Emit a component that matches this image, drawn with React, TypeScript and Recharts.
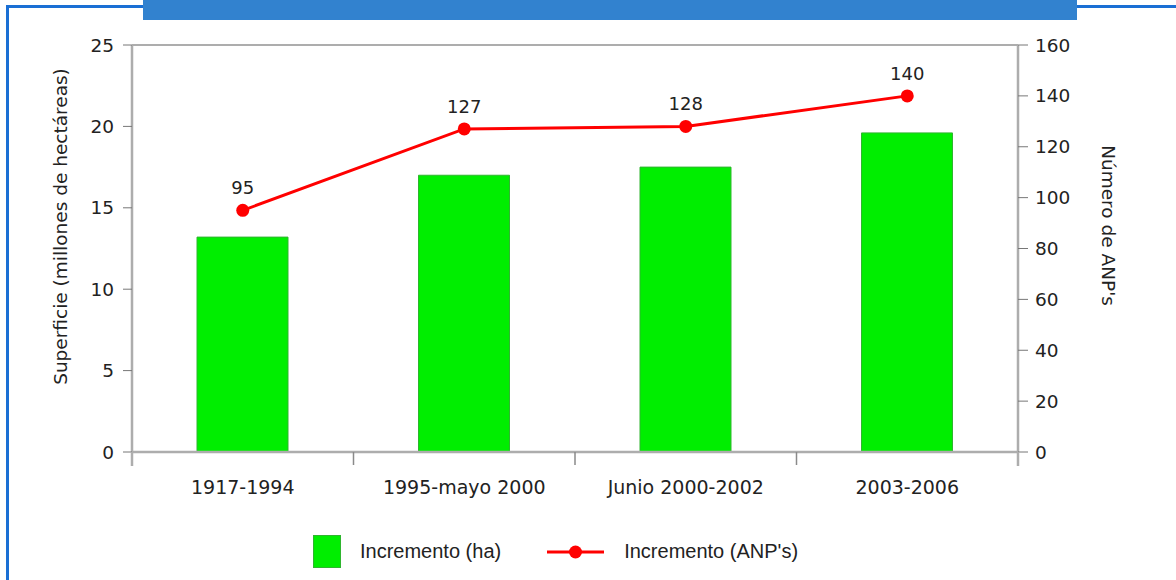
import {
  ComposedChart,
  Bar,
  Line,
  XAxis,
  YAxis,
  Legend,
  ReferenceLine,
  LabelList,
} from "recharts";

// periodos y valores
const periodos = ["1917-1994", "1995-mayo 2000", "Junio 2000-2002", "2003-2006"];
const superficie = [13.2, 17.0, 17.5, 19.6];
const numeroAnp = [95, 127, 128, 140];

const ticksSuperficie = [0, 5, 10, 15, 20, 25];
const ticksAnp = [0, 20, 40, 60, 80, 100, 120, 140, 160];

const data = periodos.map((p, i) => ({
  periodo: p,
  ha: superficie[i],
  anp: numeroAnp[i],
}));

const axisFont = "'DejaVu Sans', sans-serif";
const legendFont = "'Liberation Sans', Arial, sans-serif";
const GREEN = "#00ee00";
const RED = "#ff0000";
const AXIS = "#adadad";

const AxisTitle = (text: string, dx: number, dy: number, angle: number) =>
  (props: any) => {
    const vb = props.viewBox;
    const cx = vb.x + dx;
    const cy = vb.y + vb.height / 2 + dy;
    return (
      <text
        x={cx}
        y={cy}
        transform={`rotate(${angle} ${cx} ${cy})`}
        textAnchor="middle"
        dominantBaseline="central"
        fontSize={18.5}
        fontFamily={axisFont}
        fill="#222"
      >
        {text}
      </text>
    );
  };

// etiqueta de categoria + marcas entre bandas
const CategoryTick = (props: any) => {
  const { x, y, payload, index, visibleTicksCount, width } = props;
  const half =
    payload && payload.offset ? payload.offset : width / (2 * visibleTicksCount);
  const last = index === visibleTicksCount - 1;
  return (
    <g>
      {index === 0 && (
        <line x1={x - half} y1={y} x2={x - half} y2={y + 14} stroke={AXIS} strokeWidth={2.5} />
      )}
      {index > 0 && (
        <line x1={x - half} y1={y} x2={x - half} y2={y + 13} stroke="#8a8a8a" strokeWidth={1.5} />
      )}
      {last && (
        <line x1={x + half} y1={y} x2={x + half} y2={y + 14} stroke={AXIS} strokeWidth={2.5} />
      )}
      <text
        x={x}
        y={y + 35}
        textAnchor="middle"
        dominantBaseline="central"
        fontSize={19}
        fontFamily={axisFont}
        fill="#222"
      >
        {payload.value}
      </text>
    </g>
  );
};

const renderLegend = (props: any) => {
  const items = [...props.payload].sort(
    (a: any, b: any) => (a.type === "rect" ? 0 : 1) - (b.type === "rect" ? 0 : 1)
  );
  return (
    <div
      style={{
        display: "flex",
        alignItems: "center",
        fontFamily: legendFont,
        fontSize: 20,
        color: "#222",
      }}
    >
      {items.map((entry: any, i: number) => (
        <div
          key={i}
          style={{ display: "flex", alignItems: "center", marginLeft: i ? 46 : 0 }}
        >
          {entry.type === "rect" ? (
            <div
              style={{
                width: 28,
                height: 33,
                background: GREEN,
                border: "1px solid #2fb52f",
                boxSizing: "border-box",
                marginRight: 19,
              }}
            />
          ) : (
            <svg width={57} height={16} style={{ marginRight: 20 }}>
              <line x1={0} y1={8} x2={57} y2={8} stroke={RED} strokeWidth={3} />
              <circle cx={28.5} cy={8} r={6.5} fill={RED} />
            </svg>
          )}
          <span>{entry.value}</span>
        </div>
      ))}
    </div>
  );
};

export default function App() {
  return (
    <div
      style={{
        position: "fixed",
        left: 0,
        top: 0,
        width: 1176,
        height: 580,
        background: "#fff",
        overflow: "hidden",
      }}
    >
      {/* marco azul */}
      <div style={{ position: "absolute", left: 6, top: 5, width: 3, height: 580, background: "#1a6fd4" }} />
      <div style={{ position: "absolute", left: 6, top: 5, width: 140, height: 3, background: "#1a6fd4" }} />
      <div style={{ position: "absolute", left: 1075, top: 5, width: 101, height: 3, background: "#1a6fd4" }} />
      <div style={{ position: "absolute", left: 143, top: 0, width: 934, height: 20, background: "#3282cf" }} />

      <div style={{ position: "absolute", left: 0, top: 0 }}>
        <ComposedChart
          width={1176}
          height={580}
          data={data}
          margin={{ top: 45, right: 0, bottom: 68, left: 0 }}
          style={{ fontFamily: axisFont }}
        >
          <XAxis
            dataKey="periodo"
            height={60}
            axisLine={{ stroke: AXIS, strokeWidth: 2.5 }}
            tickLine={false}
            tickSize={0}
            tickMargin={0}
            interval={0}
            tick={<CategoryTick />}
          />
          <YAxis
            yAxisId="left"
            width={132}
            domain={[0, 25]}
            ticks={ticksSuperficie}
            tickSize={9}
            tickMargin={9}
            axisLine={{ stroke: AXIS, strokeWidth: 2.5 }}
            tickLine={{ stroke: "#777" }}
            tick={{ fontSize: 18.5, fill: "#222", fontFamily: axisFont }}
            label={AxisTitle("Superficie (millones de hectáreas)", 60, -22, -90)}
          />
          <YAxis
            yAxisId="right"
            orientation="right"
            width={158}
            domain={[0, 160]}
            ticks={ticksAnp}
            tickSize={10}
            tickMargin={7}
            axisLine={{ stroke: AXIS, strokeWidth: 2.5 }}
            tickLine={{ stroke: "#777" }}
            tick={{ fontSize: 18.5, fill: "#222", fontFamily: axisFont }}
            label={AxisTitle("Número de ANP's", 90, -23, 90)}
          />
          <ReferenceLine yAxisId="left" y={25} stroke={AXIS} strokeWidth={2} />
          <Bar
            yAxisId="left"
            dataKey="ha"
            name="Incremento (ha)"
            fill={GREEN}
            stroke="#2fb52f"
            strokeWidth={1}
            barSize={91}
            isAnimationActive={false}
          />
          <Line
            yAxisId="right"
            dataKey="anp"
            name="Incremento (ANP's)"
            type="linear"
            stroke={RED}
            strokeWidth={3}
            dot={{ r: 6.5, fill: RED, stroke: RED, strokeWidth: 0 }}
            activeDot={false}
            isAnimationActive={false}
          >
            <LabelList
              dataKey="anp"
              position="top"
              offset={16}
              fontSize={18}
              fill="#222"
              fontFamily={axisFont}
            />
          </Line>
          <Legend
            layout="horizontal"
            verticalAlign="middle"
            align="center"
            content={renderLegend}
            wrapperStyle={{ top: 535, left: 313, width: 600 }}
          />
        </ComposedChart>
      </div>
    </div>
  );
}
